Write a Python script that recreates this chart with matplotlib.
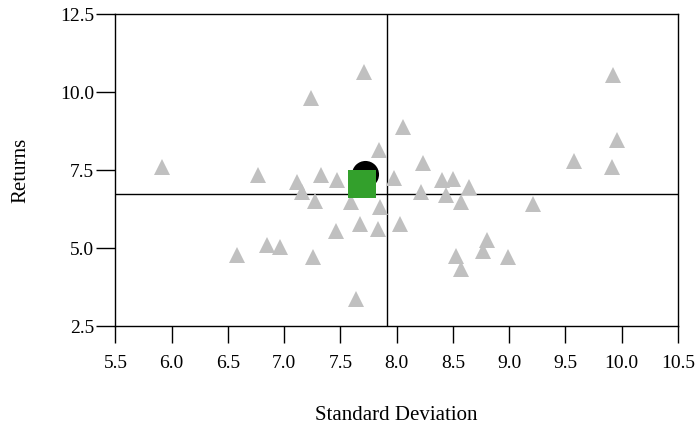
import matplotlib
matplotlib.use("Agg")
import matplotlib.pyplot as plt
import numpy as np

# точки (std, returns)
tri_x = [5.91, 6.58, 6.77, 6.85, 6.96, 7.11, 7.16, 7.24, 7.26, 7.27,
         7.33, 7.46, 7.47, 7.59, 7.64, 7.67, 7.71, 7.83, 7.84, 7.85,
         7.98, 8.03, 8.06, 8.22, 8.23, 8.40, 8.44, 8.50, 8.57, 8.64,
         8.53, 8.57, 8.77, 8.80, 8.99, 9.21, 9.58, 9.91, 9.92, 9.96]
tri_y = [7.59, 4.77, 7.32, 5.08, 5.02, 7.10, 6.78, 9.79, 4.70, 6.49,
         7.33, 5.53, 7.19, 6.46, 3.38, 5.76, 10.63, 5.60, 8.12, 6.30,
         7.23, 5.78, 8.87, 6.80, 7.72, 7.18, 6.69, 7.20, 6.46, 6.94,
         4.74, 4.34, 4.90, 5.26, 4.72, 6.40, 7.79, 7.58, 10.55, 8.46]

circle_pt = (7.72, 7.36)
square_pt = (7.69, 7.04)
vline_x = 7.916
hline_y = 6.73

x_ticks = [5.5, 6.0, 6.5, 7.0, 7.5, 8.0, 8.5, 9.0, 9.5, 10.0, 10.5]
y_ticks = [2.5, 5.0, 7.5, 10.0, 12.5]

plt.rcParams['font.family'] = ['Liberation Serif', 'DejaVu Serif']

fig = plt.figure(figsize=(6.97, 4.27), dpi=100)
ax = fig.add_axes([0.1657, 0.2342, 0.807, 0.7314])

ax.axvline(vline_x, color='black', lw=1, zorder=1)
ax.axhline(hline_y, color='black', lw=1, zorder=1)
ax.plot(tri_x, tri_y, '^', color='#c0c0c0', ms=11, mew=0, zorder=2)
ax.plot(*circle_pt, 'o', color='black', ms=19.5, mew=0, zorder=3)
ax.plot(*square_pt, 's', color='#33a02c', ms=19.5, mew=0, zorder=4)

ax.set_xlim(5.5, 10.5)
ax.set_ylim(2.5, 12.5)
ax.set_xticks(x_ticks)
ax.set_yticks(y_ticks)
ax.set_xticklabels(['%.1f' % v for v in x_ticks])
ax.set_yticklabels(['%.1f' % v for v in y_ticks])
ax.tick_params(direction='out', width=1, labelsize=14)
ax.tick_params(axis='x', length=12, pad=8)
ax.tick_params(axis='y', length=13.5, pad=2)
for s in ax.spines.values():
    s.set_linewidth(1)

ax.set_xlabel('Standard Deviation', fontsize=15, labelpad=25)
ax.set_ylabel('Returns', fontsize=15, labelpad=21)

fig.savefig('out.png', dpi=100)
